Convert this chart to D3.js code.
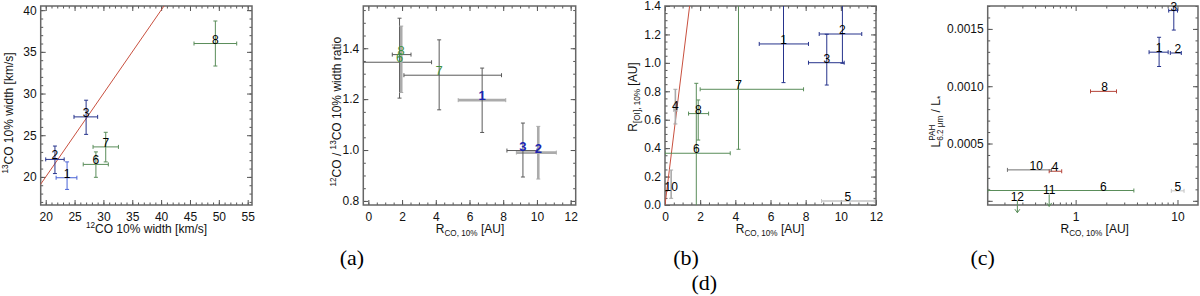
<!DOCTYPE html>
<html>
<head>
<meta charset="utf-8">
<script src="https://cdn.jsdelivr.net/npm/d3@7"></script>
<style>
body { margin: 0; background: #fff; }
svg { display: block; }
</style>
</head>
<body>
<svg id="fig" width="1200" height="296"></svg>
<script>
// ---- panel 1: 12CO vs 13CO 10% width ----
var p1Labels = ["1", "2", "3", "6", "7", "8"];
var p1Group  = ["lb", "b", "b", "g", "g", "g"];
var p1X   = [23.7, 21.6, 27.0, 28.7, 30.4, 49.4];
var p1XLo = [21.8, 20.0, 24.9, 26.5, 28.2, 45.7];
var p1XHi = [25.4, 23.2, 29.0, 30.85, 32.6, 53.1];
var p1Y   = [19.9, 22.1, 27.2, 21.5, 23.6, 36.0];
var p1YLo = [18.5, 20.4, 25.1, 19.95, 21.8, 33.3];
var p1YHi = [21.8, 23.7, 29.2, 23.0, 25.35, 38.7];
var p1XTicks = [20, 25, 30, 35, 40, 45, 50, 55];
var p1YTicks = [20, 25, 30, 35, 40];

// ---- panel 2 (a): width ratio vs R_CO ----
var p2Labels = ["1", "2", "3", "6", "7", "8"];
var p2Group  = ["b", "b", "b", "g", "g", "g"];
var p2XErrKind = ["pale", "pale", "dark", "dark", "dark", "dark"];
var p2YErrKind = ["dark", "pale", "dark", "dark", "dark", "pale"];
var p2X   = [6.75, 10.08, 9.17, 1.85, 4.2, 1.95];
var p2XLo = [5.33, 8.78, 8.22, -0.3, 2.11, 1.42];
var p2XHi = [8.15, 11.15, 10.0, 3.75, 7.9, 2.53];
var p2Y   = [1.196, 0.99, 0.998, 1.345, 1.294, 1.375];
var p2YLo = [1.069, 0.886, 0.894, 1.204, 1.158, 1.226];
var p2YHi = [1.322, 1.093, 1.106, 1.518, 1.433, 1.487];
var p2XTicks = [0, 2, 4, 6, 8, 10, 12];
var p2YTicks = [0.8, 1.0, 1.2, 1.4];

// ---- panel 3 (b): R_[OI] vs R_CO ----
var p3Labels = ["1", "2", "3", "4", "5", "6", "7", "8", "10"];
var p3Group  = ["b", "b", "b", "k", "lk", "g", "g", "g", "k"];
var p3X   = [6.74, 10.09, 9.2, 0.59, 10.4, 1.78, 4.18, 1.89, 0.35];
var p3XLo = [5.36, 8.77, 8.16, 0.5, 8.9, 0.0, 2.0, 1.34, 0.35];
var p3XHi = [8.16, 11.19, 10.19, 0.68, 11.9, 3.71, 7.88, 2.48, 0.35];
var p3Y   = [1.133, 1.203, 1.001, 0.669, 0.028, 0.364, 0.814, 0.643, 0.10];
var p3YLo = [0.861, 0.997, 0.844, 0.570, 0.028, -0.1, 0.392, 0.457, 0.047];
var p3YHi = [1.6, 1.6, 1.201, 0.814, 0.028, 0.856, 1.6, 0.739, 0.246];
var p3XTicks = [0, 2, 4, 6, 8, 10, 12];
var p3YTicks = [0.0, 0.2, 0.4, 0.6, 0.8, 1.0, 1.2, 1.4];

// ---- panel 4 (c): PAH luminosity vs R_CO ----
var p4Labels = ["1", "2", "3", "4", "5", "6", "8", "10"];
var p4Group  = ["b", "b", "b", "r", "lk", "g", "r", "dk"];
var p4X   = [6.6, 10.1, 9.2, 0.63, 10.1, 1.87, 1.92, 0.41];
var p4XLo = [5.26, 8.5, 8.2, 0.55, 8.7, 0.137, 1.40, 0.214];
var p4XHi = [8.1, 10.9, 10.0, 0.73, 11.6, 3.73, 2.52, 0.58];
var p4Y   = [0.001297, 0.00129, 0.00166, 0.000258, 0.000087, 0.00009, 0.000955, 0.00027];
var p4YLo = [0.001172, 0.00129, 0.00149, 0.000258, 0.000087, 0.00009, 0.000955, 0.00027];
var p4YHi = [0.001427, 0.00129, 0.0018, 0.000258, 0.000087, 0.00009, 0.000955, 0.00027];
var p4LimLabels = ["11", "12"];
var p4LimX = [0.55, 0.268];
var p4LimY = [0.000056, 0.000001];
var p4XTicks = [1, 10];
var p4YTicks = [0.0005, 0.0010, 0.0015];

var colors = {
    b: "#26338c", lb: "#4a63d6", g: "#5a8d5a", r: "#b5453a",
    k: "#a9a9a9", lk: "#c4c4c4", dk: "#707070",
    pale: "#ababab", dark: "#5a5a5a"
};
var labelColors = { b: "#1c24b0", g: "#3f9140" };

var SANS = "'Liberation Sans', Arial, Helvetica, sans-serif";
var SERIF = "'Liberation Serif', 'Times New Roman', serif";
var NB = "\u00a0";

var svg = d3.select("#fig");
var top0 = 6, bot0 = 205;

function richText(parent, x, y, rot, parts, size) {
    var g = parent.append("g").attr("transform", "translate(" + x + "," + y + ") rotate(" + rot + ")");
    var inner = g.append("g");
    var small = size * 0.68;
    var cx = 0, prevStart = 0;
    parts.forEach(function(p) {
        var fs = (p.sup || p.sub) ? small : size;
        var dy = p.sup ? -size * 0.42 : (p.sub ? size * 0.28 : 0);
        var start = p.stack ? prevStart : cx;
        var t = inner.append("text").attr("x", start).attr("y", dy)
            .attr("font-family", SANS)
            .attr("font-size", fs).attr("fill", "#111").text(p.t);
        var w = t.node().getComputedTextLength();
        if (p.stack) {
            cx = Math.max(cx, start + w);
        } else {
            prevStart = start;
            cx = start + w;
        }
    });
    inner.attr("transform", "translate(" + (-cx / 2) + ",0)");
}

function drawAxes(g, x, y, o) {
    var xr = x.range(), yr = y.range();
    var axCol = "#555";

    function style(sel) {
        sel.attr("font-family", SANS).attr("font-size", 12);
        sel.select(".domain").remove();
        sel.selectAll("line").attr("stroke", axCol);
        sel.selectAll("text").attr("fill", "#111");
    }

    // major + minor ticks, on all four sides
    [["bottom", yr[0]], ["top", yr[1]]].forEach(function(s) {
        var mk = s[0] === "bottom" ? d3.axisBottom : d3.axisTop;
        var major = mk(x).tickValues(o.xTicks).tickSizeInner(-5).tickSizeOuter(0)
            .tickPadding(7).tickFormat(s[0] === "bottom" ? o.xFmt : "");
        var minor = mk(x).tickValues(o.xMinor).tickSizeInner(-2.5).tickSizeOuter(0).tickFormat("");
        g.append("g").attr("transform", "translate(0," + s[1] + ")").call(major).call(style);
        g.append("g").attr("transform", "translate(0," + s[1] + ")").call(minor).call(style);
    });
    [["left", xr[0]], ["right", xr[1]]].forEach(function(s) {
        var mk = s[0] === "left" ? d3.axisLeft : d3.axisRight;
        var major = mk(y).tickValues(o.yMajor).tickSizeInner(-5).tickSizeOuter(0)
            .tickPadding(4).tickFormat(s[0] === "left" ? o.yFmt : "");
        var minor = mk(y).tickValues(o.yMinor).tickSizeInner(-2.5).tickSizeOuter(0).tickFormat("");
        g.append("g").attr("transform", "translate(" + s[1] + ",0)").call(major).call(style);
        g.append("g").attr("transform", "translate(" + s[1] + ",0)").call(minor).call(style);
    });

    g.append("rect")
        .attr("x", xr[0]).attr("y", yr[1])
        .attr("width", xr[1] - xr[0]).attr("height", yr[0] - yr[1])
        .attr("fill", "none").attr("stroke", "#666").attr("stroke-width", 1.5);
}

function errBars(g, x, y, d, hColor, vColor, hWidth, vWidth) {
    var cap = 2;
    d.forEach(function(p, i) {
        if (p.xlo !== p.xhi) {
            var yy = y(p.y);
            g.append("line").attr("x1", x(p.xlo)).attr("x2", x(p.xhi)).attr("y1", yy).attr("y2", yy)
                .attr("stroke", hColor(p, i)).attr("stroke-width", hWidth(p, i));
            [p.xlo, p.xhi].forEach(function(v) {
                g.append("line").attr("x1", x(v)).attr("x2", x(v)).attr("y1", yy - cap).attr("y2", yy + cap)
                    .attr("stroke", hColor(p, i)).attr("stroke-width", 1);
            });
        }
        if (p.ylo !== p.yhi) {
            var xx = x(p.x);
            g.append("line").attr("x1", xx).attr("x2", xx).attr("y1", y(p.ylo)).attr("y2", y(p.yhi))
                .attr("stroke", vColor(p, i)).attr("stroke-width", vWidth(p, i));
            [p.ylo, p.yhi].forEach(function(v) {
                g.append("line").attr("x1", xx - cap).attr("x2", xx + cap).attr("y1", y(v)).attr("y2", y(v))
                    .attr("stroke", vColor(p, i)).attr("stroke-width", 1);
            });
        }
    });
}

function rows(labels, grp, xs, xlo, xhi, ys, ylo, yhi) {
    return labels.map(function(l, i) {
        return { label: l, grp: grp[i], x: xs[i], xlo: xlo[i], xhi: xhi[i], y: ys[i], ylo: ylo[i], yhi: yhi[i] };
    });
}

function clipped(id, x, y) {
    var xr = x.range(), yr = y.range();
    svg.append("clipPath").attr("id", id).append("rect")
        .attr("x", xr[0]).attr("y", yr[1]).attr("width", xr[1] - xr[0]).attr("height", yr[0] - yr[1]);
    return svg.append("g").attr("clip-path", "url(#" + id + ")");
}

function oneToOne(g, x, y, lo, hi) {
    g.append("line").attr("x1", x(lo)).attr("y1", y(lo)).attr("x2", x(hi)).attr("y2", y(hi))
        .attr("stroke", "#c8503f").attr("stroke-width", 1);
}

function numLabels(g, x, y, d, fill) {
    g.selectAll(null).data(d).enter().append("text")
        .attr("x", function(p) { return x(p.x); })
        .attr("y", function(p) { return y(p.y); })
        .attr("text-anchor", "middle")
        .attr("font-family", SANS).attr("font-size", 12)
        .attr("fill", fill)
        .text(function(p) { return p.label; });
}

// ---------- panel 1 ----------
(function() {
    var x = d3.scaleLinear().domain([19.13, 55.75]).range([40.7, 252]);
    var y = d3.scaleLinear().domain([16.63, 40.5]).range([bot0, top0]);
    var g = svg.append("g");
    var plot = clipped("c1", x, y);
    oneToOne(plot, x, y, 15, 45);
    var d = rows(p1Labels, p1Group, p1X, p1XLo, p1XHi, p1Y, p1YLo, p1YHi);
    var col = function(p) { return colors[p.grp]; };
    var one = function() { return 1; };
    errBars(plot, x, y, d, col, col, one, one);
    numLabels(svg.append("g"), x, y, d, "#000");
    drawAxes(g, x, y, {
        xTicks: p1XTicks, xMinor: d3.range(20, 56, 1), xFmt: d3.format("d"),
        yMajor: p1YTicks, yMinor: d3.range(17, 41, 1), yFmt: d3.format("d")
    });
    richText(svg, 146.5, 233, 0, [{ t: "12", sup: true }, { t: "CO 10% width [km/s]" }], 12);
    richText(svg, 13, 113, -90, [{ t: "13", sup: true }, { t: "CO 10% width [km/s]" }], 12);
})();

// ---------- panel 2 (a) ----------
(function() {
    var x = d3.scaleLinear().domain([-0.3, 12.3]).range([363.3, 575.7]);
    var y = d3.scaleLinear().domain([0.784, 1.566]).range([bot0, top0]);
    var g = svg.append("g");
    var plot = clipped("c2", x, y);
    var d = rows(p2Labels, p2Group, p2X, p2XLo, p2XHi, p2Y, p2YLo, p2YHi);
    errBars(plot, x, y, d,
        function(p, i) { return colors[p2XErrKind[i]]; },
        function(p, i) { return colors[p2YErrKind[i]]; },
        function(p, i) { return p2XErrKind[i] === "pale" ? 2.6 : 1; },
        function(p, i) { return p2YErrKind[i] === "pale" ? 2.6 : 1; });
    svg.append("g").selectAll(null).data(d).enter().append("text")
        .attr("x", function(p) { return x(p.x); })
        .attr("y", function(p) { return y(p.y); })
        .attr("text-anchor", "middle")
        .attr("font-family", SANS).attr("font-size", 13)
        .attr("font-weight", function(p) { return p.grp === "b" ? "bold" : null; })
        .attr("fill", function(p) { return labelColors[p.grp]; })
        .text(function(p) { return p.label; });
    drawAxes(g, x, y, {
        xTicks: p2XTicks, xMinor: d3.range(0, 12.01, 0.5), xFmt: d3.format("d"),
        yMajor: p2YTicks, yMinor: d3.range(0.8, 1.56, 0.05), yFmt: d3.format(".1f")
    });
    richText(svg, 470, 233, 0, [{ t: "R" }, { t: "CO, 10%", sub: true }, { t: NB + "[AU]" }], 12);
    richText(svg, 341, 111.7, -90,
        [{ t: "12", sup: true }, { t: "CO" + NB + "/" + NB }, { t: "13", sup: true }, { t: "CO 10% width ratio" }], 12);
})();

// ---------- panel 3 (b) ----------
(function() {
    var x = d3.scaleLinear().domain([0, 12]).range([665, 876]);
    var y = d3.scaleLinear().domain([0, 1.4]).range([bot0, top0]);
    var g = svg.append("g");
    var plot = clipped("c3", x, y);
    oneToOne(plot, x, y, 0, 1.6);
    var d = rows(p3Labels, p3Group, p3X, p3XLo, p3XHi, p3Y, p3YLo, p3YHi);
    var col = function(p) { return colors[p.grp]; };
    var w = function(p) { return p.grp === "k" || p.grp === "lk" ? 1.6 : 1; };
    errBars(plot, x, y, d, col, col, w, w);
    numLabels(svg.append("g"), x, y, d, "#000");
    drawAxes(g, x, y, {
        xTicks: p3XTicks, xMinor: d3.range(0, 12.01, 0.5), xFmt: d3.format("d"),
        yMajor: p3YTicks, yMinor: d3.range(0, 1.41, 0.05), yFmt: d3.format(".1f")
    });
    richText(svg, 770, 233, 0, [{ t: "R" }, { t: "CO, 10%", sub: true }, { t: NB + "[AU]" }], 12);
    richText(svg, 637, 97, -90, [{ t: "R" }, { t: "[OI], 10%", sub: true }, { t: NB + "[AU]" }], 12);
})();

// ---------- panel 4 (c) ----------
(function() {
    var x = d3.scaleLog().domain([0.137, 15.9]).range([987.7, 1198]);
    var y = d3.scaleLinear().domain([-0.0000365, 0.0017]).range([bot0, top0]);
    var g = svg.append("g");
    var plot = clipped("c4", x, y);
    var d = rows(p4Labels, p4Group, p4X, p4XLo, p4XHi, p4Y, p4YLo, p4YHi);
    var col = function(p) { return colors[p.grp]; };
    var one = function() { return 1; };
    errBars(plot, x, y, d, col, col, one, one);
    numLabels(svg.append("g"), x, y, d, "#000");

    // upper limits
    p4LimLabels.forEach(function(l, i) {
        var xx = x(p4LimX[i]), yy = y(p4LimY[i]);
        svg.append("line").attr("x1", xx).attr("x2", xx).attr("y1", yy).attr("y2", yy + 12)
            .attr("stroke", colors.g).attr("stroke-width", 1);
        svg.append("path").attr("d", "M" + (xx - 2.5) + "," + (yy + 8.5) + "L" + xx + "," + (yy + 12) + "L" + (xx + 2.5) + "," + (yy + 8.5))
            .attr("fill", "none").attr("stroke", colors.g).attr("stroke-width", 1);
        svg.append("text").attr("x", xx).attr("y", yy).attr("text-anchor", "middle")
            .attr("font-family", SANS).attr("font-size", 12).attr("fill", "#000").text(l);
    });

    var minor = d3.range(2, 10).map(function(v) { return v / 10; }).concat(d3.range(2, 10));
    drawAxes(g, x, y, {
        xTicks: p4XTicks, xMinor: minor, xFmt: d3.format("d"),
        yMajor: [0].concat(p4YTicks), yMinor: d3.range(0, 0.00171, 0.0001),
        yFmt: function(v) { return v === 0 ? "" : d3.format(".4f")(v); }
    });
    richText(svg, 1094.7, 233, 0, [{ t: "R" }, { t: "CO, 10%", sub: true }, { t: NB + "[AU]" }], 12);
    richText(svg, 940, 121.7, -90,
        [{ t: "L" }, { t: "6.2" + NB + "\u03bcm", sub: true }, { t: "PAH", sup: true, stack: true },
         { t: NB + "/" + NB + "L" }, { t: "*", sub: true }], 12);
})();

// ---------- panel letters ----------
var letters = [["(a)", 352, 265], ["(b)", 686, 265], ["(c)", 982.7, 265], ["(d)", 704.3, 290]];
svg.selectAll("text.letter").data(letters).enter().append("text")
    .attr("class", "letter")
    .attr("x", function(d) { return d[1]; })
    .attr("y", function(d) { return d[2]; })
    .attr("text-anchor", "middle")
    .attr("font-family", SERIF)
    .attr("font-size", 22)
    .attr("fill", "#000")
    .text(function(d) { return d[0]; });
</script>
</body>
</html>
